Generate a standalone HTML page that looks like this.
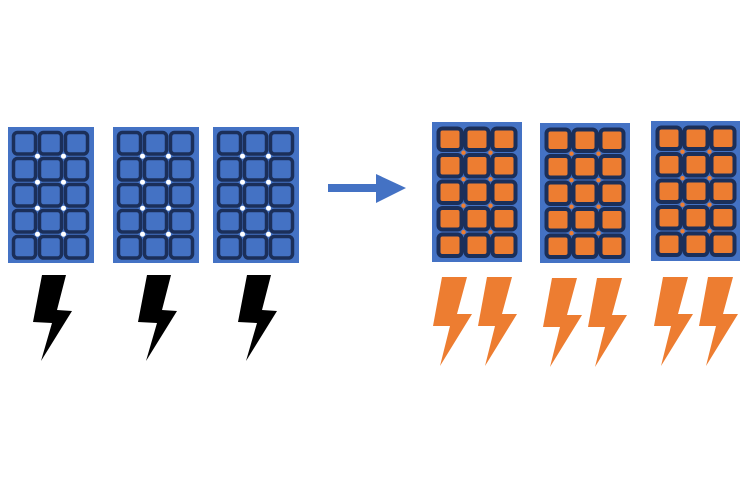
<!DOCTYPE html>
<html><head><meta charset="utf-8"><style>html,body{margin:0;padding:0;background:#fff}svg{display:block}</style></head>
<body>
<svg width="750" height="500" viewBox="0 0 750 500" xmlns="http://www.w3.org/2000/svg">
<defs>
<g id="cellsB">
  <g fill="#4472c4" stroke="#1b2f5a" stroke-width="3.5">
  <rect x="5.5" y="5.5" width="22" height="21.5" rx="4"/><rect x="31.5" y="5.5" width="22" height="21.5" rx="4"/><rect x="57.5" y="5.5" width="22" height="21.5" rx="4"/>
  <rect x="5.5" y="31.5" width="22" height="21.5" rx="4"/><rect x="31.5" y="31.5" width="22" height="21.5" rx="4"/><rect x="57.5" y="31.5" width="22" height="21.5" rx="4"/>
  <rect x="5.5" y="57.5" width="22" height="21.5" rx="4"/><rect x="31.5" y="57.5" width="22" height="21.5" rx="4"/><rect x="57.5" y="57.5" width="22" height="21.5" rx="4"/>
  <rect x="5.5" y="83.5" width="22" height="21.5" rx="4"/><rect x="31.5" y="83.5" width="22" height="21.5" rx="4"/><rect x="57.5" y="83.5" width="22" height="21.5" rx="4"/>
  <rect x="5.5" y="109.5" width="22" height="21.5" rx="4"/><rect x="31.5" y="109.5" width="22" height="21.5" rx="4"/><rect x="57.5" y="109.5" width="22" height="21.5" rx="4"/>
  </g>
  <g fill="#fff">
  <circle cx="29.5" cy="29.2" r="2.5"/><circle cx="55.5" cy="29.2" r="2.5"/>
  <circle cx="29.5" cy="55.2" r="2.5"/><circle cx="55.5" cy="55.2" r="2.5"/>
  <circle cx="29.5" cy="81.2" r="2.5"/><circle cx="55.5" cy="81.2" r="2.5"/>
  <circle cx="29.5" cy="107.2" r="2.5"/><circle cx="55.5" cy="107.2" r="2.5"/>
  </g>
</g>
<g id="cellsO">
  <g fill="#ed7d31" stroke="#1b2f5a" stroke-width="4">
  <rect x="6.5" y="6.5" width="23" height="21.5" rx="4"/><rect x="33.5" y="6.5" width="23" height="21.5" rx="4"/><rect x="60.5" y="6.5" width="23" height="21.5" rx="4"/>
  <rect x="6.5" y="33" width="23" height="21.5" rx="4"/><rect x="33.5" y="33" width="23" height="21.5" rx="4"/><rect x="60.5" y="33" width="23" height="21.5" rx="4"/>
  <rect x="6.5" y="59.5" width="23" height="21.5" rx="4"/><rect x="33.5" y="59.5" width="23" height="21.5" rx="4"/><rect x="60.5" y="59.5" width="23" height="21.5" rx="4"/>
  <rect x="6.5" y="86" width="23" height="21.5" rx="4"/><rect x="33.5" y="86" width="23" height="21.5" rx="4"/><rect x="60.5" y="86" width="23" height="21.5" rx="4"/>
  <rect x="6.5" y="112.5" width="23" height="21.5" rx="4"/><rect x="33.5" y="112.5" width="23" height="21.5" rx="4"/><rect x="60.5" y="112.5" width="23" height="21.5" rx="4"/>
  </g>
  <g fill="#ed7d31">
  <circle cx="31.5" cy="30.7" r="2.2"/><circle cx="58.5" cy="30.7" r="2.2"/>
  <circle cx="31.5" cy="57.2" r="2.2"/><circle cx="58.5" cy="57.2" r="2.2"/>
  <circle cx="31.5" cy="83.7" r="2.2"/><circle cx="58.5" cy="83.7" r="2.2"/>
  <circle cx="31.5" cy="110.2" r="2.2"/><circle cx="58.5" cy="110.2" r="2.2"/>
  </g>
</g>
</defs>

<rect x="8" y="127" width="86" height="136" fill="#4472c4"/>
<use href="#cellsB" x="8" y="127"/>
<rect x="113" y="127" width="86" height="136" fill="#4472c4"/>
<use href="#cellsB" x="113" y="127"/>
<rect x="213" y="127" width="86" height="136" fill="#4472c4"/>
<use href="#cellsB" x="213" y="127"/>

<g fill="#000">
<polygon points="42,275 66,275 57,310 72,311 41,361 52,323 33,322"/>
<polygon points="147,275 171,275 162,310 177,311 146,361 157,323 138,322"/>
<polygon points="247,275 271,275 262,310 277,311 246,361 257,323 238,322"/>
</g>

<rect x="328" y="184" width="50" height="8" fill="#4472c4"/>
<polygon points="376,174 406,188 376,203" fill="#4472c4"/>

<rect x="432" y="122" width="90" height="140" fill="#4472c4"/>
<use href="#cellsO" x="432" y="122"/>
<rect x="540" y="123" width="90" height="140" fill="#4472c4"/>
<use href="#cellsO" x="540" y="123"/>
<rect x="651" y="121" width="89" height="140" fill="#4472c4"/>
<use href="#cellsO" x="651" y="121"/>

<g fill="#ed7d31">
<polygon points="442,277 467,277 457,314 472,314 440,366 450,326 433,326"/>
<polygon points="487,277 512,277 502,314 517,314 485,366 495,326 478,326"/>
<polygon points="552,278 577,278 567,315 582,315 550,367 560,327 543,327"/>
<polygon points="597,278 622,278 612,315 627,315 595,367 605,327 588,327"/>
<polygon points="663,277 688,277 678,314 693,314 661,366 671,326 654,326"/>
<polygon points="708,277 733,277 723,314 738,314 706,366 716,326 699,326"/>
</g>
</svg>
</body></html>
